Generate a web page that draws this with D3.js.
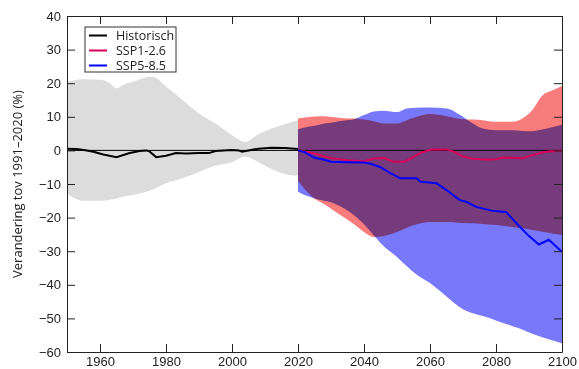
<!DOCTYPE html>
<html>
<head>
<meta charset="utf-8">
<script src="https://cdn.jsdelivr.net/npm/d3@7"></script>
<style>
  body { margin: 0; background: #fff; }
  svg { display: block; font-family: "Open Sans", sans-serif; }
  .axis text { font-size: 13px; fill: #222; }
  .axis line, .axis path { stroke: #222; }
</style>
</head>
<body>
<svg width="579" height="369"></svg>
<script>
// Historical band (grey) and historical line
var histBandYears = [1950, 1955, 1960, 1963, 1965, 1967, 1970, 1973, 1976, 1980, 1985, 1990, 1995, 2000, 2004, 2008, 2012, 2016, 2020];
var histHigh = [20.4, 21.2, 21, 20, 18.5, 19.5, 20.4, 21.5, 21.9, 19, 15, 11, 8, 4.5, 2.5, 4.8, 6.5, 7.8, 9];
var histLow = [-12.8, -15, -15, -14.7, -14.3, -13.8, -13.3, -12.6, -11.6, -9.8, -8.3, -6.4, -4.5, -3.5, -1.8, -3.5, -5.5, -7, -7.5];

var histYears = [1950, 1953, 1956, 1958, 1961, 1965, 1969, 1972, 1974, 1975, 1977, 1980, 1983, 1986, 1990, 1993, 1995, 2000, 2002, 2003, 2005, 2008, 2012, 2016, 2020];
var histValues = [0.5, 0.4, 0, -0.4, -1.2, -2, -0.8, -0.2, 0, -0.3, -2, -1.6, -0.8, -0.9, -0.8, -0.8, -0.2, 0.1, 0, -0.4, 0, 0.5, 0.8, 0.7, 0.4];

// Scenario bands
var futureYears = [2020, 2022, 2025, 2028, 2031, 2034, 2037, 2040, 2043, 2046, 2050, 2053, 2056, 2060, 2065, 2070, 2073, 2076, 2080, 2085, 2088, 2091, 2094, 2097, 2100];
var ssp126High = [9.5, 9.8, 10.1, 10.2, 9.9, 9.6, 9.5, 9.2, 8.7, 8.0, 8.0, 9.0, 10.0, 10.8, 10.2, 9.3, 9.2, 9.0, 8.5, 8.5, 9.5, 12, 16.3, 17.8, 19.2];
var ssp126Low = [-9, -11.5, -14.3, -16, -18, -20, -22, -24.3, -25.8, -25.5, -24.3, -23, -22, -21.3, -21.3, -21.6, -21.7, -21.9, -22.2, -22.8, -23.2, -23.7, -24.2, -24.7, -25.2];
var ssp585High = [6.3, 6.8, 7.3, 8, 8.4, 8.9, 9.3, 10.5, 11.6, 11.8, 11.4, 12.5, 12.7, 12.8, 12.5, 10, 8, 6.5, 6, 6, 5.8, 5.7, 6.2, 6.9, 7.6];
var ssp585Low = [-12.3, -13.3, -14.3, -15, -15.8, -17.3, -19.3, -22, -25.3, -28.5, -31.7, -34.5, -37, -39.5, -43.5, -47.3, -48.5, -49.3, -50.6, -52.3, -53.3, -54.6, -55.6, -56.5, -57.4];

// Scenario medians
var ssp126Years = [2020, 2022, 2025, 2028, 2030, 2035, 2040, 2043, 2046, 2049, 2052, 2054, 2057, 2060, 2065, 2067, 2070, 2073, 2077, 2080, 2082, 2085, 2088, 2091, 2095, 2100];
var ssp126Values = [0, -0.3, -0.9, -1.8, -2.3, -2.9, -3.2, -2.4, -2.3, -3.4, -3.4, -2.5, -0.8, 0.2, 0.3, -0.3, -1.8, -2.5, -2.7, -2.6, -2.1, -2.2, -2.3, -1.4, -0.4, 0];
var ssp585Years = [2020, 2022, 2025, 2028, 2030, 2035, 2040, 2042, 2045, 2048, 2051, 2056, 2057, 2062, 2065, 2069, 2071, 2074, 2079, 2083, 2087, 2090, 2093, 2096, 2100];
var ssp585Values = [0, -0.5, -2.2, -2.8, -3.4, -3.5, -3.6, -4, -5, -6.8, -8.3, -8.3, -9.3, -9.8, -11.8, -14.8, -15.3, -16.8, -18, -18.3, -22.5, -25.5, -28, -26.6, -30.2];

var yTicks = [-60, -50, -40, -30, -20, -10, 0, 10, 20, 30, 40];
var xTicks = [1960, 1980, 2000, 2020, 2040, 2060, 2080, 2100];
var legendNames = ['Historisch', 'SSP1-2.6', 'SSP5-8.5'];
var legendColors = ['#000000', '#d8005a', '#0000ff'];

var margin = {top: 16, right: 17, bottom: 17, left: 67};
var width = 579 - margin.left - margin.right;
var height = 369 - margin.top - margin.bottom;

var x = d3.scaleLinear().domain([1950, 2100]).range([0, width]);
var y = d3.scaleLinear().domain([-60, 40]).range([height, 0]);

var svg = d3.select('svg');
var chart = svg.append('g')
  .attr('transform', 'translate(' + margin.left + ',' + margin.top + ')');

function band(years, low, high) {
  return d3.area()
    .x((d, i) => x(years[i]))
    .y0((d, i) => y(low[i]))
    .y1((d, i) => y(high[i]))
    .curve(d3.curveMonotoneX)(years);
}

function line(years, values) {
  return d3.line()
    .x((d, i) => x(years[i]))
    .y((d, i) => y(values[i]))(years);
}

chart.append('path').attr('d', band(histBandYears, histLow, histHigh)).attr('fill', '#dcdcdc');
chart.append('path').attr('d', band(futureYears, ssp126Low, ssp126High)).attr('fill', '#f97c7c');
chart.append('path').attr('d', band(futureYears, ssp585Low, ssp585High)).attr('fill', '#7878fa')
  .style('mix-blend-mode', 'multiply');

// zero line
chart.append('line')
  .attr('x1', 0).attr('x2', width)
  .attr('y1', y(0)).attr('y2', y(0))
  .attr('stroke', '#000').attr('stroke-width', 1);

chart.append('path').attr('d', line(histYears, histValues))
  .attr('fill', 'none').attr('stroke', '#000').attr('stroke-width', 2);
chart.append('path').attr('d', line(ssp126Years, ssp126Values))
  .attr('fill', 'none').attr('stroke', legendColors[1]).attr('stroke-width', 2);
chart.append('path').attr('d', line(ssp585Years, ssp585Values))
  .attr('fill', 'none').attr('stroke', legendColors[2]).attr('stroke-width', 2);

// axes, ticks inside on all four sides
var fmt = d3.format('d');
chart.append('g').attr('class', 'axis')
  .call(d3.axisLeft(y).tickValues(yTicks).tickFormat(fmt).tickSizeInner(-8).tickSizeOuter(0).tickPadding(6));
chart.append('g').attr('class', 'axis')
  .attr('transform', 'translate(0,' + height + ')')
  .call(d3.axisBottom(x).tickValues(xTicks).tickFormat(fmt).tickSizeInner(-8).tickSizeOuter(0).tickPadding(5));
chart.append('g').attr('class', 'axis')
  .call(d3.axisTop(x).tickValues(xTicks).tickFormat('').tickSizeInner(-8).tickSizeOuter(0));
chart.append('g').attr('class', 'axis')
  .attr('transform', 'translate(' + width + ',0)')
  .call(d3.axisRight(y).tickValues(yTicks).tickFormat('').tickSizeInner(-8).tickSizeOuter(0));

// y label
svg.append('text')
  .attr('transform', 'translate(22,' + (margin.top + height / 2) + ') rotate(-90)')
  .attr('text-anchor', 'middle')
  .style('font-size', '13px')
  .attr('fill', '#222')
  .text('Verandering tov 1991\u20132020 (%)');

// legend
var legend = svg.append('g').attr('transform', 'translate(85,27)');
legend.append('rect')
  .attr('width', 91).attr('height', 45)
  .attr('fill', '#fff').attr('stroke', '#333').attr('stroke-width', 1);
var item = legend.selectAll('g.item')
  .data(legendNames).enter()
  .append('g')
  .attr('transform', (d, i) => 'translate(0,' + (8.5 + i * 15) + ')');
item.append('line')
  .attr('x1', 4).attr('x2', 22)
  .attr('stroke', (d, i) => legendColors[i]).attr('stroke-width', 2);
item.append('text')
  .attr('x', 31).attr('dy', '0.35em')
  .style('font-size', '12.5px')
  .attr('fill', '#222')
  .text(d => d);
</script>
</body>
</html>
